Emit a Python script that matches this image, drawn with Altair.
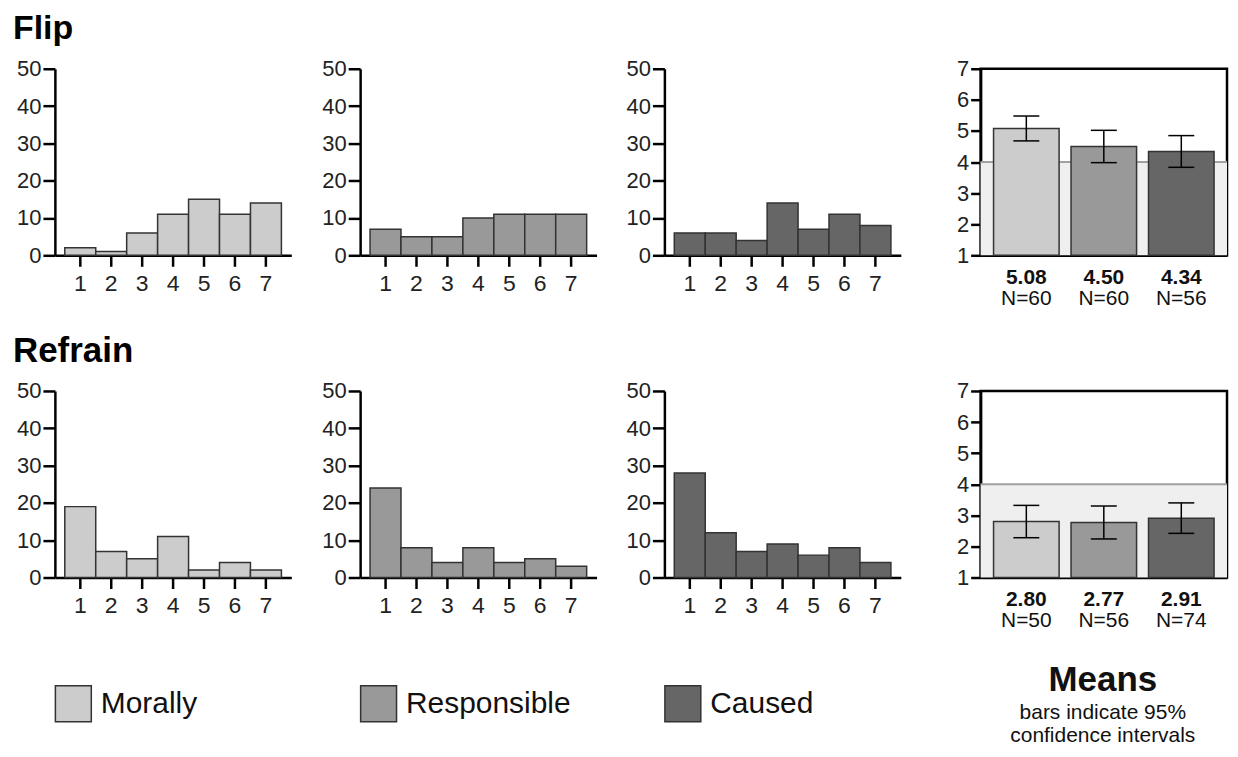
import altair as alt
import pandas as pd

# ---------------- data ----------------
ratings = [1, 2, 3, 4, 5, 6, 7]
measures = ["Morally", "Responsible", "Caused"]
colors = ["#cccccc", "#999999", "#666666"]

flip_morally = [2, 1, 6, 11, 15, 11, 14]
flip_responsible = [7, 5, 5, 10, 11, 11, 11]
flip_caused = [6, 6, 4, 14, 7, 11, 8]

refrain_morally = [19, 7, 5, 11, 2, 4, 2]
refrain_responsible = [24, 8, 4, 8, 4, 5, 3]
refrain_caused = [28, 12, 7, 9, 6, 8, 4]

flip_means = [5.08, 4.50, 4.34]
flip_ci_low = [4.68, 3.98, 3.83]
flip_ci_high = [5.48, 5.02, 4.85]
flip_n = [60, 60, 56]

refrain_means = [2.80, 2.77, 2.91]
refrain_ci_low = [2.28, 2.24, 2.42]
refrain_ci_high = [3.32, 3.30, 3.40]
refrain_n = [50, 56, 74]

count_ticks = [0, 10, 20, 30, 40, 50]
mean_ticks = [1, 2, 3, 4, 5, 6, 7]
neutral_low = [1]
neutral_high = [4]

row_titles = ["Flip", "Refrain"]
note_lines = ["Means", "bars indicate 95%", "confidence intervals"]

FONT = "Liberation Sans"
HW, HH = 237, 187
MW, MH = 247, 187
TXT = "#111111"


def hist(values, color, extent, legend_idx=None):
    df = pd.DataFrame({"rating": ratings, "count": values})
    bars = alt.Chart(df).mark_bar(
        color=color, stroke="#333333", strokeWidth=1.5, opacity=1
    ).encode(
        x=alt.X("rating:O", scale=alt.Scale(paddingInner=0, paddingOuter=0.32),
                axis=alt.Axis(title=None, labelAngle=0, tickSize=11, tickWidth=2.5,
                              domainWidth=2.5, domainColor="black", tickColor="black",
                              labelFontSize=23, labelPadding=6, labelColor="#222222",
                              grid=False)),
        y=alt.Y("count:Q", scale=alt.Scale(domain=[0, 50], nice=False),
                axis=alt.Axis(title=None, values=count_ticks, tickSize=12, tickWidth=2.5,
                              domainWidth=2.5, domainColor="black", tickColor="black",
                              labelFontSize=22, labelPadding=2, labelColor="#222222",
                              grid=False, minExtent=extent, maxExtent=extent)),
    )
    if legend_idx is None:
        return bars.properties(width=HW, height=HH)
    ldf = pd.DataFrame({"measure": [measures[legend_idx]], "color": [colors[legend_idx]]})
    sq = alt.Chart(ldf).mark_square(size=36 * 36, stroke="#333333", strokeWidth=1.5,
                                    opacity=1).encode(
        x=alt.value(18.5), y=alt.value(HH + 126.5), fill=alt.Fill("color:N", scale=None))
    tx = alt.Chart(ldf).mark_text(align="left", baseline="middle", fontSize=30,
                                  color=TXT).encode(
        x=alt.value(46), y=alt.value(HH + 126.5), text="measure:N")
    return alt.layer(bars, sq, tx).properties(width=HW, height=HH)


def means_panel(means, lo, hi, ns, with_note=False):
    df = pd.DataFrame({
        "measure": measures, "mean": means, "lo": lo, "hi": hi, "color": colors,
        "mean_label": [f"{m:.2f}" for m in means],
        "n_label": [f"N={n}" for n in ns],
    })
    shade_df = pd.DataFrame({"a": neutral_low, "b": neutral_high})
    yaxis = alt.Axis(title=None, values=mean_ticks, tickSize=10, tickWidth=2.5,
                     domainWidth=2.5, domainColor="black", tickColor="black",
                     labelFontSize=22, labelPadding=2, labelColor="#222222",
                     grid=False, minExtent=78, maxExtent=78)
    yscale = alt.Scale(domain=[1, 7], nice=False, zero=False)
    xenc = alt.X("measure:N", sort=measures,
                 scale=alt.Scale(domain=measures, paddingInner=0.154, paddingOuter=0.167),
                 axis=alt.Axis(title=None, labels=False, ticks=False, domainWidth=2.5,
                               domainColor="black"))

    shade = alt.Chart(shade_df).mark_rect(color="#efefef").encode(
        y=alt.Y("a:Q", scale=yscale, axis=yaxis), y2="b:Q")
    rule = alt.Chart(shade_df).mark_rule(color="#a0a0a0", strokeWidth=2).encode(
        y=alt.Y("b:Q", scale=yscale, axis=yaxis))
    bars = alt.Chart(df).mark_bar(stroke="#333333", strokeWidth=1.5, opacity=1).encode(
        x=xenc,
        y=alt.Y("mean:Q", scale=yscale, axis=yaxis),
        y2=alt.datum(1),
        fill=alt.Fill("color:N", scale=None),
    )
    err = alt.Chart(df).mark_rule(color="black", strokeWidth=1.5).encode(
        x=xenc, y=alt.Y("lo:Q", scale=yscale, axis=yaxis), y2="hi:Q")
    cap_lo = alt.Chart(df).mark_tick(orient="horizontal", size=26, thickness=1.5,
                                      color="black", opacity=1).encode(
        x=xenc, y=alt.Y("lo:Q", scale=yscale, axis=yaxis))
    cap_hi = alt.Chart(df).mark_tick(orient="horizontal", size=26, thickness=1.5,
                                      color="black", opacity=1).encode(
        x=xenc, y=alt.Y("hi:Q", scale=yscale, axis=yaxis))
    lab_mean = alt.Chart(df).mark_text(fontSize=21, fontWeight="bold", color=TXT,
                                        baseline="middle").encode(
        x=xenc, y=alt.value(MH + 23), text="mean_label:N")
    lab_n = alt.Chart(df).mark_text(fontSize=21, color=TXT, baseline="middle").encode(
        x=xenc, y=alt.value(MH + 44), text="n_label:N")
    layers = [shade, rule, bars, err, cap_lo, cap_hi, lab_mean, lab_n]
    if with_note:
        ndf = pd.DataFrame({"line": note_lines})
        cx = MW / 2 - 1
        n0 = alt.Chart(ndf).transform_filter(alt.datum.line == note_lines[0]).mark_text(
            fontSize=35, fontWeight="bold", color=TXT, baseline="middle").encode(
            x=alt.value(cx), y=alt.value(MH + 103), text="line:N")
        n1 = alt.Chart(ndf).transform_filter(alt.datum.line == note_lines[1]).mark_text(
            fontSize=21, color=TXT, baseline="middle").encode(
            x=alt.value(cx), y=alt.value(MH + 136), text="line:N")
        n2 = alt.Chart(ndf).transform_filter(alt.datum.line == note_lines[2]).mark_text(
            fontSize=21, color=TXT, baseline="middle").encode(
            x=alt.value(cx), y=alt.value(MH + 159), text="line:N")
        layers += [n0, n1, n2]
    return alt.layer(*layers).properties(
        width=MW, height=MH,
        view=alt.ViewBackground(stroke="black", strokeWidth=2.5))


row1 = alt.hconcat(
    hist(flip_morally, colors[0], 42),
    hist(flip_responsible, colors[1], 69),
    hist(flip_caused, colors[2], 68),
    means_panel(flip_means, flip_ci_low, flip_ci_high, flip_n),
    spacing=0,
    title=alt.Title(row_titles[0], anchor="start", fontSize=34, fontWeight="bold",
                    color="black", offset=11),
)
row2 = alt.hconcat(
    hist(refrain_morally, colors[0], 42, 0),
    hist(refrain_responsible, colors[1], 69, 1),
    hist(refrain_caused, colors[2], 68, 2),
    means_panel(refrain_means, refrain_ci_low, refrain_ci_high, refrain_n, True),
    spacing=0,
    title=alt.Title(row_titles[1], anchor="start", fontSize=35, fontWeight="bold",
                    color="black", offset=10),
)

chart = alt.vconcat(row1, row2, spacing=22).properties(
    padding={"left": 5, "top": 2, "right": 0, "bottom": 0}
).configure(font=FONT).configure_view(stroke=None)

chart.save("out.html", embed_options={"renderer": "svg", "actions": False})
